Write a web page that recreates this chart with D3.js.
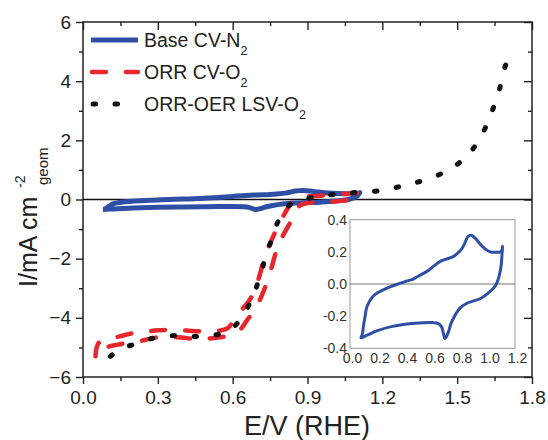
<!DOCTYPE html>
<html>
<head>
<meta charset="utf-8">
<script src="https://cdn.jsdelivr.net/npm/d3@7/dist/d3.min.js"></script>
<style>
body { margin: 0; background: #fff; }
text { font-family: 'Liberation Sans', Arial, sans-serif; fill: #222; }
</style>
</head>
<body>
<script>
// [E (V vs RHE), I (mA cm-2)]
var baseCV = [
	[0.08,-0.335],[0.12,-0.32],[0.2,-0.29],[0.3,-0.265],[0.4,-0.25],[0.5,-0.242],[0.6,-0.24],
	[0.64,-0.245],[0.665,-0.265],[0.68,-0.31],[0.69,-0.34],[0.70,-0.33],[0.715,-0.3],[0.735,-0.245],
	[0.76,-0.2],[0.8,-0.15],[0.85,-0.12],[0.9,-0.105],[0.95,-0.09],[1.0,-0.06],[1.04,-0.03],
	[1.065,0.0],[1.085,0.05],[1.1,0.12],[1.105,0.18],[1.11,0.235],[1.105,0.21],[1.095,0.2],
	[1.06,0.197],[1.02,0.2],[0.98,0.22],[0.945,0.25],[0.91,0.285],[0.885,0.302],[0.865,0.3],
	[0.85,0.285],[0.83,0.245],[0.81,0.215],[0.78,0.19],[0.75,0.17],[0.7,0.155],[0.654,0.139],
	[0.6,0.105],[0.557,0.077],[0.5,0.05],[0.46,0.031],[0.4,0.015],[0.35,0.0],[0.3,-0.015],
	[0.25,-0.033],[0.2,-0.055],[0.17,-0.075],[0.14,-0.11],[0.12,-0.15],[0.11,-0.2],[0.1,-0.25],
	[0.092,-0.3],[0.085,-0.325]
]

var orrCV = [
	[0.05,-5.3],[0.055,-5.0],[0.065,-4.83],[0.1,-4.74],[0.15,-4.62],[0.2,-4.52],[0.26,-4.46],
	[0.3,-4.42],[0.38,-4.41],[0.45,-4.45],[0.53,-4.45],[0.58,-4.35],[0.6,-4.15],[0.616,-3.99],
	[0.64,-3.7],[0.67,-3.37],[0.703,-2.7],[0.73,-1.91],[0.763,-1.24],[0.803,-0.56],[0.837,-0.11],
	[0.86,0.02],[0.9,0.1],[0.95,0.13],[1.0,0.16],[1.06,0.2],[1.1,0.22],[1.113,0.18],[1.09,0.04],
	[1.05,-0.03],[1.0,-0.08],[0.95,-0.1],[0.9,-0.12],[0.87,-0.2],[0.857,-0.34],[0.83,-0.79],
	[0.8,-1.25],[0.777,-1.69],[0.75,-2.47],[0.716,-3.26],[0.686,-3.75],[0.656,-4.1],[0.63,-4.4],
	[0.6,-4.55],[0.55,-4.66],[0.5,-4.7],[0.45,-4.71],[0.38,-4.66],[0.3,-4.66],[0.22,-4.8],
	[0.15,-4.89],[0.1,-4.98],[0.07,-5.1],[0.05,-5.3]
]

var lsv = [
	[0.11,-5.3],[0.15,-5.05],[0.195,-4.92],[0.24,-4.78],[0.275,-4.7],[0.32,-4.64],[0.369,-4.6],
	[0.41,-4.62],[0.449,-4.63],[0.49,-4.6],[0.536,-4.57],[0.58,-4.45],[0.616,-4.21],[0.645,-3.9],
	[0.67,-3.48],[0.69,-3.1],[0.703,-2.75],[0.72,-2.3],[0.732,-1.91],[0.75,-1.5],[0.77,-1.0],
	[0.79,-0.6],[0.815,-0.3],[0.84,-0.11],[0.88,0.0],[0.93,0.08],[1.015,0.18],[1.1,0.24],
	[1.2,0.31],[1.29,0.48],[1.378,0.68],[1.468,1.01],[1.545,1.52],[1.601,2.22],[1.637,2.92],
	[1.668,3.68],[1.691,4.46],[1.697,4.6]
]

var xTicks = [0, 0.3, 0.6, 0.9, 1.2, 1.5, 1.8]
var xMinor = [0.15, 0.45, 0.75, 1.05, 1.35, 1.65]
var yTicks = [-6, -4, -2, 0, 2, 4, 6]
var yMinor = [-5, -3, -1, 1, 3, 5]
var insetXTicks = [0, 0.2, 0.4, 0.6, 0.8, 1.0, 1.2]
var insetYTicks = [-0.4, -0.2, 0, 0.2, 0.4]
var legendLabels = ['Base CV-N', 'ORR CV-O', 'ORR-OER LSV-O']

var blue = '#2f4fa6', red = '#e8262b', black = '#111'

var svg = d3.select('body').append('svg').attr('width', 548).attr('height', 440)

var margin = {left: 83, top: 22, right: 16, bottom: 63}
var width = 548 - margin.left - margin.right
var height = 440 - margin.top - margin.bottom

var x = d3.scaleLinear().domain([0, 1.8]).range([margin.left, margin.left + width])
var y = d3.scaleLinear().domain([-6, 6]).range([margin.top + height, margin.top])

function axis(gen, transform, values, size, fmt) {
	var g = svg.append('g')
		.attr('transform', transform)
		.style('color', '#222')
		.call(gen.tickValues(values).tickSizeInner(size).tickSizeOuter(0).tickFormat(fmt))
	g.select('.domain').remove()
	g.selectAll('line').attr('stroke-width', 1.4)
	g.selectAll('text').attr('font-size', 19).attr('font-family', "'Liberation Sans', Arial, sans-serif").style('fill', '#222')
	return g
}

var fmtX = d3.format('.1f')
axis(d3.axisBottom(x).tickPadding(7), 'translate(0,' + y(-6) + ')', xTicks, 7, fmtX)
axis(d3.axisBottom(x), 'translate(0,' + y(-6) + ')', xMinor, 4, '')
axis(d3.axisLeft(y).tickPadding(5), 'translate(' + x(0) + ',0)', yTicks, 7, d3.format('d'))
axis(d3.axisLeft(y), 'translate(' + x(0) + ',0)', yMinor, 4, '')
axis(d3.axisTop(x), 'translate(0,' + y(6) + ')', xTicks, -8, '')
axis(d3.axisTop(x), 'translate(0,' + y(6) + ')', xMinor, -4, '')
axis(d3.axisRight(y), 'translate(' + x(1.8) + ',0)', yTicks, -8, '')
axis(d3.axisRight(y), 'translate(' + x(1.8) + ',0)', yMinor, -4, '')

svg.append('rect')
	.attr('x', x(0)).attr('y', y(6))
	.attr('width', width).attr('height', height)
	.attr('fill', 'none').attr('stroke', '#222').attr('stroke-width', 1.5)

// zero line
svg.append('line')
	.attr('x1', x(0)).attr('x2', x(1.8))
	.attr('y1', y(0)).attr('y2', y(0))
	.attr('stroke', '#111').attr('stroke-width', 1.5)

var line = d3.line()
	.x((d) => { return x(d[0]) })
	.y((d) => { return y(d[1]) })
	.curve(d3.curveCatmullRom)

svg.append('path').attr('d', line(baseCV))
	.attr('fill', 'none').attr('stroke', blue).attr('stroke-width', 5)
	.attr('stroke-linejoin', 'round')

svg.append('path').attr('d', line(orrCV))
	.attr('fill', 'none').attr('stroke', red).attr('stroke-width', 4.5)
	.attr('stroke-dasharray', '14,20').attr('stroke-linecap', 'round')

svg.append('path').attr('d', line(lsv))
	.attr('fill', 'none').attr('stroke', black).attr('stroke-width', 5)
	.attr('stroke-dasharray', '2.5,19.5').attr('stroke-linecap', 'round')

// legend
var legendStyles = [
	{color: blue, dash: null, width: 5, x1: 91, x2: 138},
	{color: red, dash: '14,20', width: 4.5, x1: 92, x2: 138},
	{color: black, dash: '2.5,19.5', width: 5, x1: 93, x2: 118}
]
legendLabels.forEach((label, i) => {
	var ly = 40 + i * 32
	var s = legendStyles[i]
	svg.append('line')
		.attr('x1', s.x1).attr('x2', s.x2).attr('y1', ly).attr('y2', ly)
		.attr('stroke', s.color).attr('stroke-width', s.width)
		.attr('stroke-dasharray', s.dash).attr('stroke-linecap', s.dash ? 'round' : 'butt')
	var t = svg.append('text')
		.attr('x', 144).attr('y', ly + 7)
		.attr('font-size', 19.5)
		.text(label)
	t.append('tspan').attr('font-size', 12.5).attr('dy', 8).text('2')
})

// axis titles
svg.append('text')
	.attr('x', 307).attr('y', 435)
	.attr('text-anchor', 'middle')
	.attr('font-size', 27)
	.text('E/V (RHE)')

var yTitle = svg.append('g').attr('transform', 'translate(37,287) rotate(-90)')
yTitle.append('text').attr('x', 0).attr('y', 0).attr('font-size', 25).text('I/mA cm')
yTitle.append('text').attr('x', 99).attr('y', -12).attr('font-size', 14).text('-2')
yTitle.append('text').attr('x', 102).attr('y', 11).attr('font-size', 15).text('geom')

// inset
var ix = d3.scaleLinear().domain([0, 1.2]).range([350, 515])
var iy = d3.scaleLinear().domain([-0.4, 0.4]).range([348.3, 219.7])

svg.append('rect')
	.attr('x', ix(0)).attr('y', iy(0.4))
	.attr('width', ix(1.2) - ix(0)).attr('height', iy(-0.4) - iy(0.4))
	.attr('fill', '#fff').attr('stroke', '#999').attr('stroke-width', 1)

svg.append('line')
	.attr('x1', ix(0)).attr('x2', ix(1.2))
	.attr('y1', iy(0)).attr('y2', iy(0))
	.attr('stroke', '#777').attr('stroke-width', 1)

var ixAxis = svg.append('g')
	.attr('transform', 'translate(2,' + iy(-0.4) + ')')
	.call(d3.axisBottom(ix).tickValues(insetXTicks).tickSize(0).tickPadding(5).tickFormat(d3.format('.1f')))
var iyAxis = svg.append('g')
	.attr('transform', 'translate(' + (ix(0) - 1) + ',0)')
	.call(d3.axisLeft(iy).tickValues(insetYTicks).tickSize(0).tickPadding(2).tickFormat(d3.format('.1f')))
;[ixAxis, iyAxis].forEach((g) => {
	g.select('.domain').remove()
	g.selectAll('text').attr('font-size', 14).attr('font-family', "'Liberation Sans', Arial, sans-serif").style('fill', '#333')
})
iyAxis.selectAll('text').text((d) => { return d3.format('.1f')(d).replace('\u2212', '-') })
ixAxis.selectAll('text').text((d) => { return d3.format('.1f')(d) })

var insetLine = d3.line()
	.x((d) => { return ix(d[0]) })
	.y((d) => { return iy(d[1]) })
	.curve(d3.curveCatmullRomClosed)

svg.append('path').attr('d', insetLine(baseCV))
	.attr('fill', 'none').attr('stroke', blue).attr('stroke-width', 3)
	.attr('stroke-linejoin', 'round')
</script>
</body>
</html>
